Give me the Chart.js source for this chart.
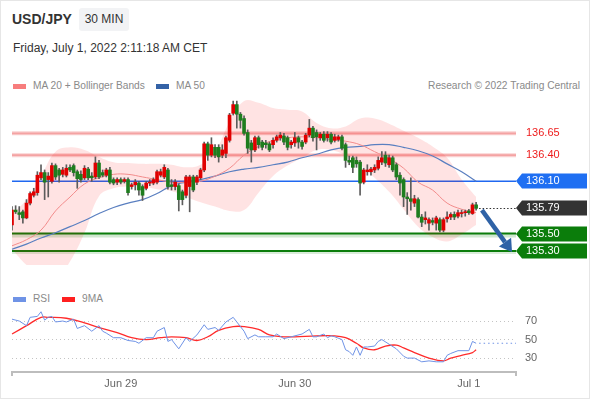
<!DOCTYPE html>
<html><head><meta charset="utf-8">
<script src="https://cdn.jsdelivr.net/npm/chart.js@4.4.1/dist/chart.umd.min.js"></script>
<style>
html,body{margin:0;padding:0;background:#fff;}
body{width:590px;height:400px;position:relative;overflow:hidden;font-family:'Liberation Sans',Arial,sans-serif;}
.abs{position:absolute;white-space:nowrap;}
.sw{position:absolute;}
.lg{font-size:10.2px;line-height:12px;color:#8a8a8a;}
#frame{position:absolute;left:0;top:0;width:588px;height:397px;border:1px solid #e6e6e6;pointer-events:none;}
#mainWrap{position:absolute;left:0;top:95px;width:590px;height:170px;}
#rsiWrap{position:absolute;left:0;top:285px;width:590px;height:115px;}
</style></head><body>
<div id="frame"></div>
<div class="abs" style="left:12px;top:11px;font-size:14px;font-weight:bold;color:#333;line-height:16px">USD/JPY</div>
<div class="abs" style="left:79px;top:8px;width:50px;height:23px;line-height:23px;text-align:center;background:#f2f3f5;border-radius:3px;font-size:12px;color:#333">30 MIN</div>
<div class="abs" style="left:13px;top:41px;font-size:12px;color:#333;line-height:14px">Friday, July 1, 2022 2:11:18 AM CET</div>
<div class="sw" style="left:13px;top:84px;width:13px;height:5px;background:#f77d7d"></div>
<div class="abs lg" style="left:33px;top:80px">MA 20 + Bollinger Bands</div>
<div class="sw" style="left:156px;top:84px;width:13px;height:5px;background:#3462a6"></div>
<div class="abs lg" style="left:176px;top:80px">MA 50</div>
<div class="abs lg" style="right:10px;top:80px">Research © 2022 Trading Central</div>
<div class="sw" style="left:13px;top:297px;width:13px;height:5px;background:#6f93e6"></div>
<div class="abs lg" style="left:33px;top:293px">RSI</div>
<div class="sw" style="left:62px;top:297px;width:13px;height:5px;background:#ff2020"></div>
<div class="abs lg" style="left:82px;top:293px">9MA</div>
<div id="mainWrap"><canvas id="main" width="590" height="170"></canvas></div>
<div id="rsiWrap"><canvas id="rsi" width="590" height="115"></canvas></div>
<script>
// ---- categories: 30-minute bars starting Jun 28 09:00 ----
const categories = [];
(function(){ let mon='Jun', day=28, m=9*60;
  for(let i=0;i<140;i++){ const hh=String(Math.floor(m/60)).padStart(2,'0'), mm=String(m%60).padStart(2,'0');
    categories.push(mon+' '+day+' '+hh+':'+mm); m+=30;
    if(m>=1440){m-=1440; day++; if(mon==='Jun'&&day>30){mon='Jul';day=1;}} } })();
const xTickIdx = [30, 78, 126];
const xTickText = ['Jun 29', 'Jun 30', 'Jul 1'];

// ---- OHLC ----
const opens = [135.60,135.77,135.74,135.75,135.68,135.85,135.94,135.97,136.14,136.20,
136.12,136.10,136.28,136.23,136.18,136.17,136.26,136.28,136.21,136.18,
136.14,136.24,136.16,136.15,136.31,136.20,136.17,136.23,136.12,136.09,
136.12,136.10,136.12,136.04,136.06,136.08,136.04,136.02,136.08,136.08,
136.09,136.17,136.15,136.23,136.06,136.04,136.05,135.98,135.94,136.04,
136.15,136.09,136.14,136.23,136.53,136.40,136.49,136.49,136.40,136.42,
136.57,136.88,136.98,136.87,136.82,136.66,136.54,136.46,136.60,136.55,
136.54,136.53,136.52,136.57,136.60,136.62,136.60,136.52,136.54,136.60,
136.55,136.55,136.63,136.71,136.66,136.60,136.64,136.60,136.64,136.57,
136.58,136.61,136.52,136.34,136.37,136.34,136.32,136.09,136.21,136.21,
136.23,136.25,136.32,136.40,136.29,136.37,136.29,136.17,136.12,135.92,
135.90,135.85,135.89,135.69,135.66,135.62,135.65,135.62,135.66,135.54,
135.67,135.69,135.72,135.70,135.73,135.74,135.76,135.73,135.83];
const highs = [135.81,135.82,135.81,135.77,135.89,135.98,136.02,136.21,136.29,136.23,
136.20,136.31,136.30,136.25,136.26,136.29,136.29,136.30,136.23,136.22,
136.28,136.26,136.20,136.38,136.34,136.23,136.25,136.26,136.14,136.14,
136.14,136.14,136.14,136.08,136.12,136.10,136.06,136.10,136.12,136.14,
136.23,136.24,136.29,136.25,136.12,136.12,136.07,136.00,136.17,136.17,
136.17,136.17,136.25,136.55,136.55,136.60,136.52,136.52,136.52,136.62,
136.88,137.02,137.02,136.89,136.85,136.69,136.57,136.62,136.62,136.57,
136.57,136.55,136.60,136.63,136.66,136.65,136.62,136.57,136.66,136.62,
136.57,136.65,136.81,136.73,136.69,136.66,136.67,136.67,136.66,136.64,
136.63,136.63,136.54,136.39,136.39,136.38,136.34,136.25,136.29,136.26,
136.29,136.38,136.44,136.44,136.40,136.39,136.31,136.20,136.14,135.97,
136.14,135.94,135.91,135.72,135.75,135.68,135.68,135.70,135.68,135.68,
135.75,135.74,135.75,135.77,135.77,135.77,135.78,135.85,135.86];
const lows = [135.54,135.73,135.66,135.62,135.67,135.83,135.92,135.94,136.12,135.89,
135.92,136.08,136.12,136.09,136.15,136.15,136.21,136.16,136.02,136.09,
136.12,136.12,136.10,136.13,136.13,136.15,136.15,136.07,136.06,136.06,
136.07,136.08,135.94,136.01,136.00,135.94,135.88,136.00,136.05,136.06,
136.07,136.15,136.13,136.01,136.00,136.00,135.76,135.83,135.91,135.75,
135.98,136.06,136.12,136.21,136.34,136.38,136.37,136.32,136.37,136.37,
136.55,136.86,136.71,136.71,136.63,136.42,136.32,136.44,136.48,136.46,
136.48,136.44,136.48,136.55,136.57,136.52,136.46,136.48,136.50,136.48,
136.47,136.53,136.61,136.56,136.46,136.57,136.55,136.56,136.53,136.55,
136.56,136.46,136.26,136.29,136.20,136.26,135.94,136.07,136.17,136.17,
136.20,136.23,136.29,136.27,136.26,136.21,136.12,135.94,135.81,135.72,
135.77,135.81,135.68,135.58,135.61,135.54,135.60,135.54,135.52,135.52,
135.63,135.66,135.66,135.68,135.69,135.70,135.72,135.72,135.77];
const closes = [135.77,135.75,135.72,135.68,135.85,135.96,135.98,136.17,136.20,136.09,
136.16,136.28,136.15,136.17,136.23,136.25,136.23,136.20,136.13,136.12,
136.25,136.14,136.14,136.31,136.15,136.17,136.23,136.09,136.08,136.12,
136.09,136.12,135.97,136.06,136.09,136.00,135.94,136.08,136.09,136.12,
136.21,136.21,136.26,136.04,136.04,136.09,135.89,135.89,136.15,136.15,
136.00,136.15,136.23,136.53,136.40,136.52,136.40,136.38,136.46,136.60,
136.86,136.98,136.87,136.80,136.65,136.48,136.46,136.60,136.52,136.49,
136.52,136.46,136.57,136.61,136.63,136.55,136.49,136.55,136.60,136.55,
136.50,136.63,136.71,136.60,136.61,136.64,136.57,136.64,136.55,136.61,
136.61,136.48,136.34,136.32,136.26,136.30,136.08,136.23,136.23,136.24,
136.26,136.34,136.37,136.31,136.37,136.23,136.15,136.08,135.92,135.90,
135.87,135.90,135.69,135.63,135.68,135.66,135.63,135.68,135.54,135.66,
135.69,135.72,135.69,135.74,135.74,135.75,135.74,135.83,135.79];

// ---- indicator readings (every 4th bar) ----
const bandIdx = [0,4,8,12,16,20,24,28,32,36,40,44,48,52,56,60,64,68,72,76,80,84,88,92,96,100,104,108,112,116,120,124,128];
const ma20 = [135.36,135.43,135.54,135.76,135.92,136.07,136.14,136.18,136.18,136.15,136.12,136.09,136.09,136.10,136.16,136.25,136.40,136.50,136.57,136.60,136.61,136.60,136.58,136.56,136.52,136.44,136.36,136.25,136.09,136.00,135.85,135.78,135.74];
const ma50 = [135.32,135.38,135.45,135.51,135.58,135.65,135.73,135.80,135.85,135.89,135.96,136.05,136.09,136.12,136.16,136.21,136.24,136.26,136.29,136.32,136.37,136.41,136.46,136.49,136.50,136.52,136.52,136.49,136.45,136.39,136.30,136.21,136.10];
const bbUpper = [135.72,135.89,136.16,136.44,136.49,136.46,136.38,136.32,136.31,136.30,136.30,136.29,136.26,136.29,136.44,136.78,137.02,137.00,136.94,136.92,136.90,136.77,136.71,136.73,136.82,136.82,136.76,136.68,136.60,136.50,136.37,136.12,135.92];
const bbLower = [135.32,135.14,135.02,134.97,135.18,135.51,135.93,136.02,136.04,136.04,136.01,135.99,135.92,135.86,135.81,135.76,135.77,135.97,136.16,136.28,136.37,136.46,136.46,136.40,136.29,136.14,135.98,135.78,135.58,135.46,135.41,135.49,135.60];

// ---- price levels ----
const priceLevels = [136.65, 136.40, 136.10, 135.79, 135.50, 135.30];
const levelTextColors = ['#ee1c1c','#ee1c1c','#ffffff','#ffffff','#ffffff','#ffffff'];
const tagLevels = [136.10, 135.79, 135.50, 135.30];
const tagColors = ['#1f6ff2', '#333333', '#0b7d0b', '#0b7d0b'];
const arrowFrom = [129.6, 135.77];
const arrowTo = [137.9, 135.29];
const priceMin = 135.14, priceMax = 137.09;

// ---- RSI ----
const rsiIdx = [0,2,4,5,7,8,9,10,11,12,14,15,17,18,20,22,24,25,26,28,30,32,34,35,37,39,40,42,43,44,46,48,49,51,53,54,56,57,59,61,62,64,65,67,68,70,72,73,75,77,80,82,83,84,86,87,88,89,91,92,93,94,95,96,97,98,100,101,102,104,106,108,109,111,113,115,117,119,120,121,123,126,127,128];
const rsiVals = [72,70,65,74,75,80,71,74,75,69,70,69,72,62,65,59,65,59,57,52,52,49,48,46,52,52,59,63,48,50,40,52,48,55,66,61,63,60,69,74,69,59,51,55,53,53,53,56,51,53,56,61,53,53,56,52,54,53,50,39,37,33,42,33,42,42,43,48,50,45,40,32,30,30,26,27,26,26,33,35,38,38,48,46];
const ma9Idx = [0,4,8,10,15,20,24,29,33,37,41,44,48,51,54,57,61,64,68,71,75,78,84,89,92,95,97,100,103,106,108,111,115,119,121,124,127,128];
const ma9Vals = [56,65,74,74,73,68,63,57.5,52,50,52,53,52,49,53,60,64,64,61,55,53,53,54,54,52,46,41,39,43,44,41,36,30,27,30,33,36,39];
const rsiTicks = [30, 50, 70];

const FONT = "'Liberation Sans', Arial, sans-serif";
Chart.defaults.font.family = FONT;
const pts = (idx, vals) => idx.map((i, k) => ({x: categories[i], y: vals[k]}));

const mainDeco = {
  id: 'mainDeco',
  beforeDraw(chart) {
    const {ctx, chartArea: a, scales: {y}} = chart;
    ctx.save();
    tagLevels.forEach((v, k) => {
      const py = Math.round(y.getPixelForValue(v));
      ctx.fillStyle = tagColors[k];
      ctx.beginPath();
      ctx.moveTo(a.right, py); ctx.lineTo(a.right + 6, py - 7.5); ctx.lineTo(587, py - 7.5);
      ctx.lineTo(587, py + 7.5); ctx.lineTo(a.right + 6, py + 7.5); ctx.closePath(); ctx.fill();
    });
    ctx.restore();
  },
  beforeDatasetsDraw(chart) {
    const {ctx, chartArea: a, scales: {y}} = chart;
    const line = (v, color, w, dy) => {
      const py = y.getPixelForValue(v) + (dy || 0);
      ctx.strokeStyle = color; ctx.lineWidth = w;
      ctx.beginPath(); ctx.moveTo(a.left, py); ctx.lineTo(a.right, py); ctx.stroke();
    };
    ctx.save();
    line(136.65, 'rgba(245,150,150,0.45)', 4); line(136.65, '#f4a3a3', 1.6);
    line(136.40, 'rgba(245,150,150,0.45)', 4); line(136.40, '#f4a3a3', 1.6);
    line(136.10, '#2068f0', 1.5);
    line(135.50, 'rgba(0,128,0,0.18)', 4, 2); line(135.50, '#0b7d0b', 2);
    line(135.30, 'rgba(0,128,0,0.15)', 4, 1); line(135.30, '#0b7d0b', 2);
    ctx.restore();
  },
  afterDatasetsDraw(chart) {
    const {ctx, chartArea: a, scales: {x, y}} = chart;
    ctx.save();
    ctx.lineWidth = 1; ctx.setLineDash([1.5, 2]);
    const xl = x.getPixelForValue(closes.length - 1) + 3;
    [[ma50[ma50.length - 1], '#2068f0'], [closes[closes.length - 1], '#333333']].forEach(([v, c]) => {
      const py = Math.round(y.getPixelForValue(v)) + 0.5;
      ctx.strokeStyle = c; ctx.beginPath(); ctx.moveTo(xl, py); ctx.lineTo(a.right, py); ctx.stroke();
    });
    ctx.setLineDash([]);
    const x0 = x.getPixelForValue(arrowFrom[0]), y0 = y.getPixelForValue(arrowFrom[1]);
    const x1 = x.getPixelForValue(arrowTo[0]), y1 = y.getPixelForValue(arrowTo[1]);
    const ang = Math.atan2(y1 - y0, x1 - x0), head = 12, hw = 7.5;
    const bx = x1 - head * Math.cos(ang), by = y1 - head * Math.sin(ang);
    ctx.strokeStyle = ctx.fillStyle = '#2f62a6'; ctx.lineWidth = 4.5;
    ctx.beginPath(); ctx.moveTo(x0, y0); ctx.lineTo(bx, by); ctx.stroke();
    ctx.beginPath(); ctx.moveTo(x1, y1);
    ctx.lineTo(bx + hw * Math.sin(ang), by - hw * Math.cos(ang));
    ctx.lineTo(bx - hw * Math.sin(ang), by + hw * Math.cos(ang));
    ctx.closePath(); ctx.fill();
    ctx.restore();
  }
};

new Chart(document.getElementById('main'), {
  type: 'bar',
  data: {
    labels: categories,
    datasets: [
      {type: 'bar', label: 'body', data: opens.map((o, i) => [o, closes[i]]),
       backgroundColor: c => closes[c.dataIndex] >= opens[c.dataIndex] ? '#e00000' : '#1e7d1e',
       barThickness: 3, grouped: false, minBarLength: 1, order: 1},
      {type: 'bar', label: 'wick', data: lows.map((l, i) => [l, highs[i]]),
       backgroundColor: '#5c5c5c', barThickness: 1, grouped: false, order: 2},
      {type: 'line', label: 'MA 20', data: pts(bandIdx, ma20), borderColor: '#f28b8b', borderWidth: 1,
       pointRadius: 0, tension: 0.4, fill: false, order: 3},
      {type: 'line', label: 'MA 50', data: pts(bandIdx, ma50), borderColor: '#5a7fc0', borderWidth: 1.2,
       pointRadius: 0, tension: 0.4, fill: false, order: 3},
      {type: 'line', label: 'BB upper', data: pts(bandIdx, bbUpper), borderColor: 'transparent', borderWidth: 0,
       pointRadius: 0, tension: 0.4, fill: '+1', backgroundColor: 'rgba(255,0,0,0.11)', order: 4},
      {type: 'line', label: 'BB lower', data: pts(bandIdx, bbLower), borderColor: 'transparent', borderWidth: 0,
       pointRadius: 0, tension: 0.4, fill: false, order: 5}
    ]
  },
  options: {
    responsive: false, animation: false, events: [],
    layout: {padding: {left: 12, right: 0, top: 0, bottom: 0}},
    plugins: {legend: {display: false}, tooltip: {enabled: false}},
    scales: {
      x: {type: 'category', offset: false, display: false},
      y: {position: 'right', min: priceMin, max: priceMax,
          afterBuildTicks: s => { s.ticks = priceLevels.map(v => ({value: v})); },
          afterFit: s => { s.width = 74; s.paddingTop = 0; s.paddingBottom = 0; },
          grid: {display: false, drawTicks: false}, border: {display: false},
          ticks: {autoSkip: false, padding: 10, font: {size: 11}, color: c => levelTextColors[c.index],
                  callback: v => Number(v).toFixed(2)}}
    }
  },
  plugins: [mainDeco]
});

const rsiDeco = {
  id: 'rsiDeco',
  afterDatasetsDraw(chart) {
    const {ctx, chartArea: a, scales: {x, y}} = chart;
    const py = y.getPixelForValue(rsiVals[rsiVals.length - 1]);
    ctx.save(); ctx.strokeStyle = '#6f93e6'; ctx.lineWidth = 1.2; ctx.setLineDash([1.5, 3]);
    ctx.beginPath(); ctx.moveTo(x.getPixelForValue(rsiIdx[rsiIdx.length - 1]) + 3, py); ctx.lineTo(a.right, py); ctx.stroke();
    ctx.restore();
  },
  afterDraw(chart) {
    const {ctx, chartArea: a} = chart;
    ctx.save(); ctx.strokeStyle = '#bdbdbd'; ctx.lineWidth = 2;
    [a.left, a.right].forEach(px => { ctx.beginPath(); ctx.moveTo(px, a.bottom - 1); ctx.lineTo(px, a.bottom + 4); ctx.stroke(); });
    ctx.restore();
  }
};

new Chart(document.getElementById('rsi'), {
  type: 'line',
  data: {
    labels: categories,
    datasets: [
      {label: 'RSI', data: pts(rsiIdx, rsiVals), borderColor: '#6f93e6', borderWidth: 1, pointRadius: 0, tension: 0},
      {label: '9MA', data: pts(ma9Idx, ma9Vals), borderColor: '#ff2b2b', borderWidth: 1.3, pointRadius: 0, tension: 0.4}
    ]
  },
  options: {
    responsive: false, animation: false, events: [],
    layout: {padding: {left: 12, right: 0, top: 20, bottom: 0}},
    plugins: {legend: {display: false}, tooltip: {enabled: false}},
    scales: {
      x: {type: 'category', offset: false,
          afterFit: s => { s.height = 28; },
          grid: {display: false, drawTicks: false}, border: {display: true, color: '#bdbdbd', width: 2},
          ticks: {autoSkip: false, maxRotation: 0, minRotation: 0, padding: 5, font: {size: 11}, color: '#666',
                  callback: (v, i) => { const k = xTickIdx.indexOf(i); return k >= 0 ? xTickText[k] : ''; }}},
      y: {position: 'right', min: 15, max: 87.3,
          afterBuildTicks: s => { s.ticks = rsiTicks.map(v => ({value: v})); },
          afterFit: s => { s.width = 74; s.paddingTop = 0; s.paddingBottom = 0; },
          grid: {color: '#c4c4c4', lineWidth: 1, drawTicks: false},
          border: {display: false, dash: [1, 3]},
          ticks: {padding: 9, font: {size: 11}, color: '#666'}}
    }
  },
  plugins: [rsiDeco]
});
</script>
</body></html>
